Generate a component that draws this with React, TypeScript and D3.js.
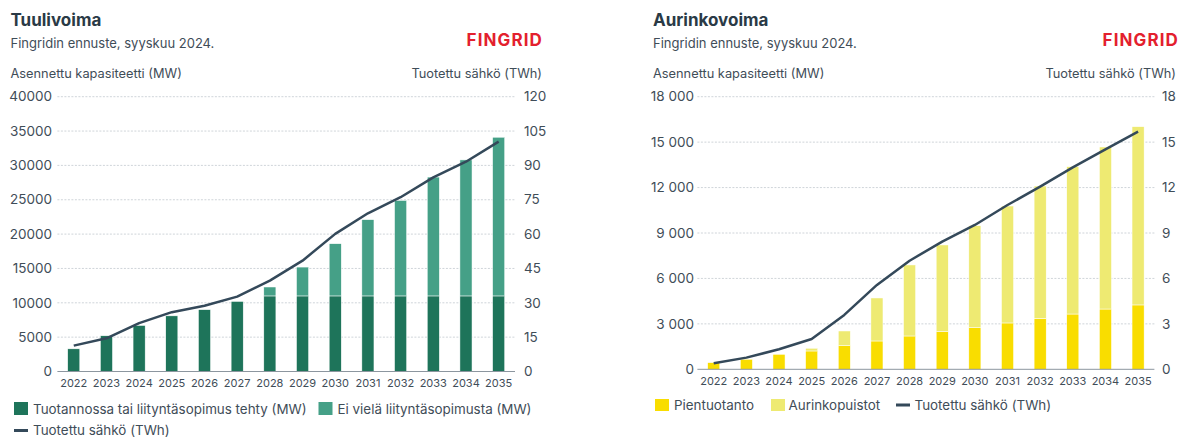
import React from 'react';
import * as d3 from 'd3';

const years = ['2022', '2023', '2024', '2025', '2026', '2027', '2028', '2029', '2030', '2031', '2032', '2033', '2034', '2035'];

// Tuulivoima (MW, TWh)
const windBuilt = [3300, 5200, 6700, 8100, 9000, 10200, 11000, 11000, 11000, 11000, 11000, 11000, 11000, 11000];
const windPlanned = [0, 0, 0, 0, 0, 0, 1300, 4200, 7600, 11100, 13900, 17300, 19800, 23100];
const windTWh = [11.3, 14.5, 21.1, 25.9, 28.7, 32.7, 39.7, 48.4, 60.1, 69.1, 76.1, 84.8, 91.6, 100.4];
const windTicksMW = [0, 5000, 10000, 15000, 20000, 25000, 30000, 35000, 40000];
const windTicksTWh = [0, 15, 30, 45, 60, 75, 90, 105, 120];

// Aurinkovoima (MW, TWh)
const solarSmall = [440, 660, 990, 1210, 1560, 1870, 2200, 2490, 2750, 3060, 3370, 3650, 3980, 4250];
const solarParks = [0, 0, 0, 180, 970, 2840, 4690, 5720, 6730, 7720, 8730, 9730, 10700, 11770];
const solarTWh = [0.4, 0.77, 1.32, 2.0, 3.59, 5.57, 7.17, 8.43, 9.53, 10.85, 12.06, 13.33, 14.52, 15.69];
const solarTicksMW = [0, 3000, 6000, 9000, 12000, 15000, 18000];
const solarTicksTWh = [0, 3, 6, 9, 12, 15, 18];

const FONT = 'Inter, "Noto Sans", sans-serif';
const TEXT = '#3f4d58';
const TITLE = '#2a3a46';
const LINE = '#34495a';

const spaceFmt = (v: number) => d3.format(',')(v).replace(/,/g, ' ');

function Panel(props: any) {
  const { x0, x1, yTop, yBottom, title, maxMW, maxTWh, ticksMW, ticksTWh, fmt, lower, upper,
    twh, colors, leftLabelX, rightLabelX, titleX, logoX, axisRightX, legend } = props;

  const x = d3.scaleBand().domain(years).range([x0, x1]).paddingInner(0.63).paddingOuter(0.315);
  const y = d3.scaleLinear().domain([0, maxMW]).range([yBottom, yTop]);
  const y2 = d3.scaleLinear().domain([0, maxTWh]).range([yBottom, yTop]);
  const line = d3.line<number>()
    .x((_, i) => (x(years[i]) as number) + x.bandwidth() / 2)
    .y((d) => y2(d));

  return (
    <g>
      <text x={titleX} y={26} fontSize={17} fontWeight={700} fill={TITLE}>{title}</text>
      <text x={titleX} y={48} fontSize={13} fill={TEXT}>Fingridin ennuste, syyskuu 2024.</text>
      <text x={logoX} y={46} fontSize={17} fontWeight={700} fill="#e3202d" textAnchor="end" letterSpacing={1.1}>FINGRID</text>
      <text x={titleX} y={77.5} fontSize={12.8} fill={TEXT}>Asennettu kapasiteetti (MW)</text>
      <text x={axisRightX} y={77.5} fontSize={12.8} fill={TEXT} textAnchor="end">Tuotettu sähkö (TWh)</text>

      {ticksMW.slice(1).map((t: number) => (
        <line key={'g' + t} x1={x0} x2={x1} y1={y(t)} y2={y(t)} stroke="#c3c9cf" strokeWidth={0.8} strokeDasharray="2,1.5" />
      ))}
      {ticksMW.map((t: number) => (
        <text key={'l' + t} x={leftLabelX} y={y(t)} dy="0.35em" fontSize={13.5} fill={TEXT} textAnchor="end">{fmt(t)}</text>
      ))}
      {ticksTWh.map((t: number) => (
        <text key={'r' + t} x={rightLabelX} y={y2(t)} dy="0.35em" fontSize={13.5} fill={TEXT}>{t}</text>
      ))}

      {years.map((yr, i) => (
        <g key={yr}>
          <rect x={x(yr)} y={y(lower[i])} width={x.bandwidth()} height={yBottom - y(lower[i])} fill={colors[0]} stroke="#fff" strokeWidth={0.5} />
          {upper[i] > 0 && (
            <rect x={x(yr)} y={y(lower[i] + upper[i])} width={x.bandwidth()} height={y(lower[i]) - y(lower[i] + upper[i])} fill={colors[1]} stroke="#fff" strokeWidth={0.5} />
          )}
          <text x={(x(yr) as number) + x.bandwidth() / 2} y={yBottom + 12} dy="0.35em" fontSize={11} fill={TEXT} textAnchor="middle">{yr}</text>
        </g>
      ))}
      <line x1={x0} x2={x1} y1={yBottom} y2={yBottom} stroke="#8c969f" strokeWidth={1} />

      <path d={line(twh) || ''} fill="none" stroke={LINE} strokeWidth={2.5} strokeLinejoin="round" />

      {legend}
    </g>
  );
}

export default function App() {
  return (
    <svg width={1183} height={437} style={{ position: 'absolute', left: 0, top: 0, background: '#fff' }} fontFamily={FONT}>
      <Panel
        x0={57.4} x1={515} yTop={96.7} yBottom={371.5}
        title="Tuulivoima" maxMW={40000} maxTWh={120}
        ticksMW={windTicksMW} ticksTWh={windTicksTWh} fmt={(v: number) => String(v)}
        lower={windBuilt} upper={windPlanned} twh={windTWh}
        colors={['#1e745a', '#45a087']}
        leftLabelX={52} rightLabelX={524} titleX={10.5} logoX={543} axisRightX={542}
        legend={
          <g fontSize={13.4} fill={TEXT}>
            <rect x={14} y={402} width={14} height={13} fill="#1e745a" />
            <text x={33} y={409} dy="0.35em">Tuotannossa tai liityntäsopimus tehty (MW)</text>
            <rect x={318.5} y={402} width={14} height={13} fill="#45a087" />
            <text x={337.5} y={409} dy="0.35em">Ei vielä liityntäsopimusta (MW)</text>
            <rect x={14} y={429} width={14} height={3} fill={LINE} />
            <text x={33} y={430.7} dy="0.35em">Tuotettu sähkö (TWh)</text>
          </g>
        }
      />
      <Panel
        x0={697.4} x1={1154.4} yTop={96.7} yBottom={369.3}
        title="Aurinkovoima" maxMW={18000} maxTWh={18}
        ticksMW={solarTicksMW} ticksTWh={solarTicksTWh} fmt={spaceFmt}
        lower={solarSmall} upper={solarParks} twh={solarTWh}
        colors={['#f9dd00', '#eeea72']}
        leftLabelX={694} rightLabelX={1162} titleX={653} logoX={1179} axisRightX={1176}
        legend={
          <g fontSize={13.4} fill={TEXT}>
            <rect x={655} y={399} width={14} height={12} fill="#f9dd00" />
            <text x={674} y={405} dy="0.35em">Pientuotanto</text>
            <rect x={771} y={399} width={14} height={12} fill="#eeea72" />
            <text x={788.5} y={405} dy="0.35em">Aurinkopuistot</text>
            <rect x={896} y={403.5} width={14} height={3} fill={LINE} />
            <text x={914.5} y={405} dy="0.35em">Tuotettu sähkö (TWh)</text>
          </g>
        }
      />
    </svg>
  );
}
